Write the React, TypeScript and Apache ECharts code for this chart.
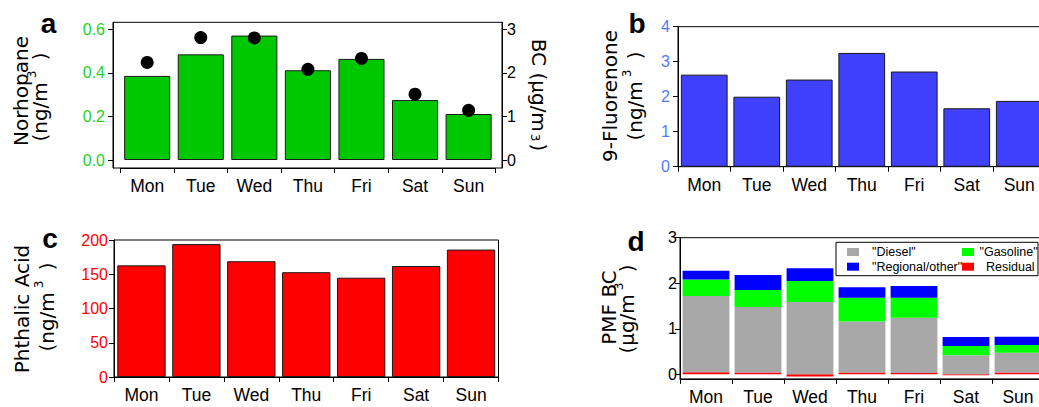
import React, { useEffect, useRef } from 'react';
import * as echarts from 'echarts';

// ---- data ----
const days = ['Mon', 'Tue', 'Wed', 'Thu', 'Fri', 'Sat', 'Sun'];

// panel a
const norhopane = [0.386, 0.485, 0.571, 0.412, 0.464, 0.275, 0.211]; // ng/m3
const blackCarbon = [2.24, 2.81, 2.8, 2.08, 2.33, 1.51, 1.14]; // µg/m3
const norhopaneTicks = [0, 0.2, 0.4, 0.6];
const bcTicks = [0, 1, 2, 3];

// panel b
const fluorenone = [2.63, 2.0, 2.49, 3.25, 2.72, 1.67, 1.88]; // ng/m3
const fluorenoneTicks = [0, 1, 2, 3, 4];

// panel c
const phthalicAcid = [163, 194, 169, 153, 145, 162, 186]; // ng/m3
const phthalicTicks = [0, 50, 100, 150, 200];

// panel d (PMF source apportionment of BC, µg/m3)
const residual = [0.045, 0.04, -0.05, 0.04, 0.03, -0.02, 0.04];
const diesel = [1.675, 1.44, 1.59, 1.12, 1.21, 0.42, 0.435];
const gasoline = [0.365, 0.37, 0.46, 0.52, 0.44, 0.2, 0.17];
const regional = [0.19, 0.33, 0.28, 0.23, 0.26, 0.2, 0.18];
const pmfTicks = [0, 1, 2, 3];

// ---- styling ----
const FONT = "'Liberation Sans', Arial, Helvetica, sans-serif";
const TFONT = "'DejaVu Sans', Verdana, sans-serif";
const GREEN = '#00c800';
const GREEN_LABEL = '#1fd21f';
const BLUE = '#4040ff';
const BLUE_LABEL = '#4f7bff';
const RED = '#ff0000';
const C_DIESEL = '#a8a8a8';
const C_GASOLINE = '#00ff00';
const C_REGIONAL = '#0000ff';
const C_RESIDUAL = '#ff0000';

const TICK_FONT = 16;
const CAT_FONT = 17.5;
const TITLE_FONT = 20;

function catAxis(gridIndex: number) {
  return {
    type: 'category',
    gridIndex,
    data: days,
    axisLine: { show: true, onZero: false, lineStyle: { color: '#000', width: 1 } },
    axisTick: { show: true, length: 5, lineStyle: { color: '#000', width: 1 } },
    axisLabel: { color: '#000', fontSize: CAT_FONT, fontFamily: FONT, margin: 9, interval: 0 },
    splitLine: { show: false },
  };
}

function valAxis(
  gridIndex: number,
  min: number,
  max: number,
  ticks: number[],
  color: string,
  digits: number,
  margin: number,
  extra: Record<string, unknown> = {}
) {
  return {
    type: 'value',
    gridIndex,
    min,
    max,
    axisLine: { show: true, lineStyle: { color: '#000', width: 1 } },
    axisTick: { show: true, length: 5, customValues: ticks, lineStyle: { color: '#000', width: 1 } },
    axisLabel: {
      customValues: ticks,
      color,
      fontSize: TICK_FONT,
      fontFamily: FONT,
      margin,
      formatter: (v: number) => v.toFixed(digits),
    },
    splitLine: { show: false },
    ...extra,
  };
}

function titleLine(x: number, y: number, text: string) {
  return {
    type: 'text',
    x,
    y,
    rotation: Math.PI / 2,
    style: { text, font: `${TITLE_FONT}px ${TFONT}`, fill: '#000', align: 'center', verticalAlign: 'middle' },
  };
}

// unit line "(…/m³ )" with a raised 3, rotated to read upwards
function unitLine(x: number, y: number, prefix: string) {
  return {
    type: 'text',
    x,
    y,
    rotation: Math.PI / 2,
    style: {
      text: `{n|${prefix}}{s|3}{n| )}`,
      align: 'center',
      verticalAlign: 'middle',
      fill: '#000',
      rich: {
        n: { font: `${TITLE_FONT}px ${TFONT}`, fill: '#000', verticalAlign: 'bottom' },
        s: { font: `12px ${TFONT}`, fill: '#000', verticalAlign: 'bottom', padding: [0, 4, 12, 4] },
      },
    },
  };
}

function panelLetter(x: number, y: number, text: string) {
  return {
    type: 'text',
    x,
    y,
    style: { text, font: `bold 28px ${FONT}`, fill: '#000', align: 'center', verticalAlign: 'middle' },
  };
}

function legendItem(x: number, y: number, color: string, label: string, textX: number) {
  return [
    { type: 'rect', shape: { x, y: y - 4, width: 12, height: 8 }, style: { fill: color } },
    {
      type: 'text',
      x: textX,
      y,
      style: { text: label, font: `12.5px ${FONT}`, fill: '#000', align: 'left', verticalAlign: 'middle' },
    },
  ];
}

const gridBase = { outerBoundsMode: 'none', containLabel: false };

const option = {
  animation: false,
  backgroundColor: '#fff',
  grid: [
    // 0: panel a data area
    { ...gridBase, left: 120.4, top: 22.3, width: 375, height: 145.7 },
    // 1: panel a frame
    { ...gridBase, left: 113, top: 22.3, width: 389, height: 145.7, show: true, borderColor: '#000', borderWidth: 1 },
    // 2: panel b
    { ...gridBase, left: 678, top: 26.7, width: 367.5, height: 140, show: true, borderColor: '#000', borderWidth: 1 },
    // 3: panel c
    { ...gridBase, left: 114, top: 240, width: 384.5, height: 137, show: true, borderColor: '#000', borderWidth: 1 },
    // 4: panel d
    { ...gridBase, left: 680, top: 237.7, width: 364, height: 141.2, show: true, borderColor: '#000', borderWidth: 1 },
  ],
  xAxis: [
    catAxis(0),
    { type: 'value', gridIndex: 1, show: false },
    catAxis(2),
    catAxis(3),
    catAxis(4),
  ],
  yAxis: [
    valAxis(0, -0.0367, 0.632, norhopaneTicks, GREEN_LABEL, 1, 8, { position: 'left', offset: 7.4 }),
    valAxis(0, -0.1835, 3.16, bcTicks, '#000', 0, 5, { position: 'right', offset: 6.6 }),
    { type: 'value', gridIndex: 1, show: false },
    valAxis(2, 0, 4, fluorenoneTicks, BLUE_LABEL, 0, 8),
    valAxis(3, 0, 200, phthalicTicks, RED, 0, 6),
    valAxis(4, -0.1, 3, pmfTicks, '#000', 0, 3),
  ],
  series: [
    {
      name: 'Norhopane',
      type: 'bar',
      xAxisIndex: 0,
      yAxisIndex: 0,
      data: norhopane,
      barCategoryGap: '14%',
      itemStyle: { color: GREEN, borderColor: '#1a1a1a', borderWidth: 1 },
    },
    {
      name: 'BC',
      type: 'scatter',
      xAxisIndex: 0,
      yAxisIndex: 1,
      data: blackCarbon,
      symbol: 'circle',
      symbolSize: 13,
      itemStyle: { color: '#000', opacity: 1 },
      z: 5,
    },
    {
      name: '9-Fluorenone',
      type: 'bar',
      xAxisIndex: 2,
      yAxisIndex: 3,
      data: fluorenone,
      barCategoryGap: '11%',
      itemStyle: { color: BLUE, borderColor: '#1a1a1a', borderWidth: 1 },
    },
    {
      name: 'Phthalic Acid',
      type: 'bar',
      xAxisIndex: 3,
      yAxisIndex: 4,
      data: phthalicAcid,
      barCategoryGap: '12%',
      itemStyle: { color: RED, borderColor: '#1a1a1a', borderWidth: 1 },
    },
    ...[
      { name: 'Residual', data: residual, color: C_RESIDUAL },
      { name: '"Diesel"', data: diesel, color: C_DIESEL },
      { name: '"Gasoline"', data: gasoline, color: C_GASOLINE },
      { name: '"Regional/other"', data: regional, color: C_REGIONAL },
    ].map((s) => ({
      name: s.name,
      type: 'bar',
      xAxisIndex: 4,
      yAxisIndex: 5,
      stack: 'pmf',
      data: s.data,
      barCategoryGap: '10%',
      itemStyle: { color: s.color, borderWidth: 0 },
    })),
  ],
  graphic: [
    // axis titles
    titleLine(21.4, 91, 'Norhopane'),
    unitLine(38, 97, '(ng/m'),
    {
      type: 'text',
      x: 539,
      y: 95,
      rotation: -Math.PI / 2,
      style: {
        text: '{n|BC (µg/m}{s|3}{n|)}',
        align: 'center',
        verticalAlign: 'middle',
        fill: '#000',
        rich: {
          n: { font: `${TITLE_FONT}px ${TFONT}`, fill: '#000', verticalAlign: 'top' },
          s: { font: `12px ${TFONT}`, fill: '#000', verticalAlign: 'bottom', padding: [0, 2, 0, 2] },
        },
      },
    },
    titleLine(610, 96, '9-Fluorenone'),
    unitLine(633, 96, '(ng/m'),
    titleLine(22, 309, 'Phthalic Acid'),
    unitLine(45, 307, '(ng/m'),
    titleLine(609, 307.5, 'PMF BC'),
    unitLine(625, 309, '(µg/m'),
    // panel letters
    panelLetter(48.5, 23.5, 'a'),
    panelLetter(637, 23.5, 'b'),
    panelLetter(50, 238.5, 'c'),
    panelLetter(636, 241, 'd'),
    // legend for panel d
    {
      type: 'rect',
      shape: { x: 836, y: 242.3, width: 202, height: 33.4 },
      style: { fill: '#fff', stroke: '#000', lineWidth: 1 },
      z: 10,
    },
    ...[
      ...legendItem(847, 252, C_DIESEL, '"Diesel"', 872),
      ...legendItem(962, 252, C_GASOLINE, '"Gasoline"', 979.5),
      ...legendItem(847, 266.7, C_REGIONAL, '"Regional/other"', 872),
      ...legendItem(962, 266.7, C_RESIDUAL, 'Residual', 986),
    ].map((e) => ({ ...e, z: 11 })),
  ],
};

export default function App() {
  const ref = useRef<HTMLDivElement>(null);
  useEffect(() => {
    if (!ref.current) return;
    const chart = echarts.init(ref.current, null, { renderer: 'svg' });
    chart.setOption(option as any);
    return () => chart.dispose();
  }, []);
  return (
    <div
      ref={ref}
      style={{ position: 'absolute', left: 0, top: 0, width: 1039, height: 407, background: '#fff' }}
    />
  );
}
